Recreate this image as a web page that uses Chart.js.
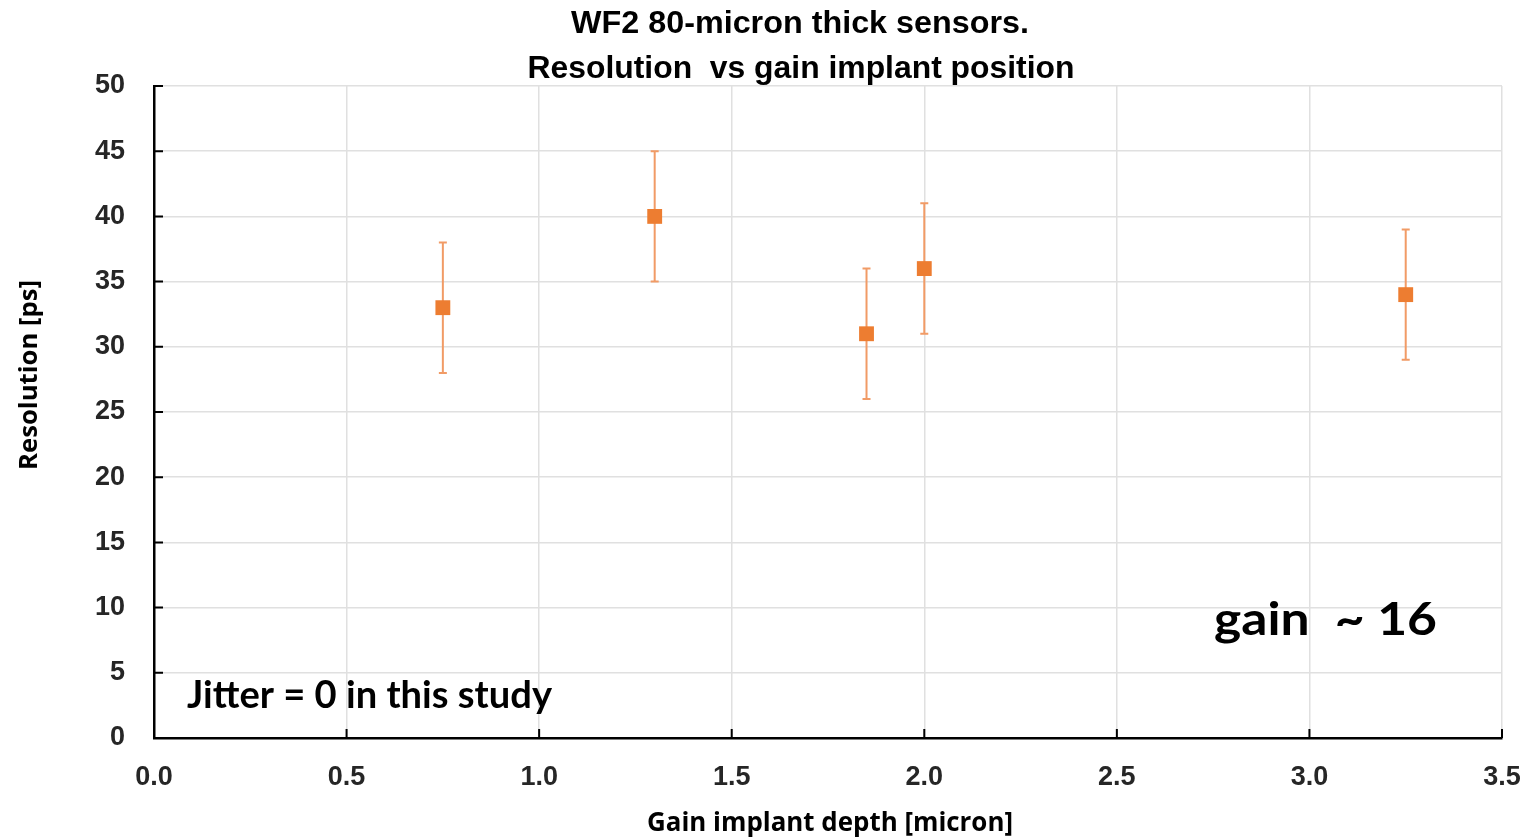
<!DOCTYPE html>
<html><head><meta charset="utf-8">
<script src="https://cdn.jsdelivr.net/npm/chart.js@4.4.1/dist/chart.umd.min.js"></script>
<style>html,body{margin:0;padding:0;background:#fff;overflow:hidden}#wrap{width:1527px;height:839px}</style>
</head><body><div id="wrap"><canvas id="c" width="1527" height="839"></canvas></div>
<script>
// ---- data ----
const depths = [0.75, 1.3, 1.85, 2.0, 3.25];
const resolutions = [33, 40, 31, 36, 34];
const errors = [5, 5, 5, 5, 5];
const xTickValues = [0, 0.5, 1.0, 1.5, 2.0, 2.5, 3.0, 3.5];
const yTickValues = [0, 5, 10, 15, 20, 25, 30, 35, 40, 45, 50];
const titleLines = ["WF2 80-micron thick sensors.", "Resolution  vs gain implant position"];
const xTitle = "Gain implant depth [micron]";
const yTitle = "Resolution [ps]";
const notes = ["Jitter = 0 in this study", "gain  ~ 16"];

const ORANGE = '#ED7D31';
const ERR = '#F19B66';

function fitText(ctx, text, cx, base, width, font, rot) {
  ctx.save();
  ctx.font = font;
  const w = ctx.measureText(text).width;
  ctx.translate(cx, base);
  if (rot) ctx.rotate(rot);
  ctx.scale(width / w, 1);
  ctx.textAlign = 'center';
  ctx.textBaseline = 'alphabetic';
  ctx.fillStyle = '#000';
  ctx.fillText(text, 0, 0);
  ctx.restore();
}

const errorBars = {
  id: 'errorBars',
  beforeDatasetsDraw(chart) {
    const ctx = chart.ctx, xs = chart.scales.x, ys = chart.scales.y;
    ctx.save();
    ctx.strokeStyle = ERR;
    ctx.lineWidth = 2;
    depths.forEach((d, i) => {
      const x = xs.getPixelForValue(d);
      const yt = ys.getPixelForValue(resolutions[i] + errors[i]);
      const yb = ys.getPixelForValue(resolutions[i] - errors[i]);
      ctx.beginPath();
      ctx.moveTo(x, yt); ctx.lineTo(x, yb);
      ctx.moveTo(x - 4, yt); ctx.lineTo(x + 4, yt);
      ctx.moveTo(x - 4, yb); ctx.lineTo(x + 4, yb);
      ctx.stroke();
    });
    ctx.restore();
  }
};

const decor = {
  id: 'decor',
  afterDraw(chart) {
    const ctx = chart.ctx, xs = chart.scales.x, ys = chart.scales.y;
    const a = chart.chartArea;
    ctx.save();
    ctx.strokeStyle = '#000';
    ctx.lineWidth = 2;
    ctx.beginPath();
    yTickValues.forEach(v => { const y = ys.getPixelForValue(v); ctx.moveTo(a.left, y); ctx.lineTo(a.left + 9, y); });
    xTickValues.forEach(v => { const x = xs.getPixelForValue(v); ctx.moveTo(x, a.bottom); ctx.lineTo(x, a.bottom - 9); });
    ctx.stroke();
    ctx.restore();
    const tf = 'bold 32px "Liberation Sans Narrow", "Liberation Sans", sans-serif';
    fitText(ctx, titleLines[0], 800, 33, 458, tf);
    fitText(ctx, titleLines[1], 801, 78, 547, tf);
    fitText(ctx, xTitle, 830, 831, 366, 'bold 27px "Open Sans", sans-serif');
    fitText(ctx, yTitle, 37, 375, 190, 'bold 25px "Open Sans", sans-serif', -Math.PI / 2);
    fitText(ctx, notes[0], 369.5, 708, 365, 'bold 38px Lato, "DejaVu Sans", sans-serif');
    fitText(ctx, notes[1], 1325.5, 635, 223, 'bold 46px Lato, "DejaVu Sans", sans-serif');
  }
};

new Chart(document.getElementById('c'), {
  type: 'scatter',
  data: {
    datasets: [{
      data: depths.map((d, i) => ({ x: d, y: resolutions[i] })),
      backgroundColor: ORANGE,
      borderColor: ORANGE,
      pointStyle: 'rect',
      pointRadius: 10.5,
      pointHoverRadius: 10.5,
      borderWidth: 0
    }]
  },
  options: {
    responsive: false,
    animation: false,
    events: [],
    layout: { padding: { top: 86, right: 25, bottom: 0, left: 0 } },
    plugins: { legend: { display: false }, title: { display: false }, tooltip: { enabled: false } },
    scales: {
      x: {
        type: 'linear', min: 0, max: 3.5,
        afterFit(s) { s.height = 101; s.paddingLeft = 0; s.paddingRight = 0; },
        afterBuildTicks(s) { s.ticks = xTickValues.map(v => ({ value: v })); },
        grid: { color: '#e0e0e0', lineWidth: 1.5, drawTicks: false },
        border: { display: true, color: '#000', width: 2.5 },
        ticks: { padding: 23, color: '#262626', font: { family: '"Liberation Sans", Arial, sans-serif', weight: 'bold', size: 27 },
                 callback: v => Number(v).toFixed(1), maxRotation: 0 }
      },
      y: {
        type: 'linear', min: 0, max: 50,
        afterFit(s) { s.width = 154; s.paddingTop = 0; s.paddingBottom = 0; },
        afterBuildTicks(s) { s.ticks = yTickValues.map(v => ({ value: v })); },
        grid: { color: '#e0e0e0', lineWidth: 1.5, drawTicks: false },
        border: { display: true, color: '#000', width: 2.5 },
        ticks: { padding: 29, color: '#262626', font: { family: '"Liberation Sans", Arial, sans-serif', weight: 'bold', size: 27 } }
      }
    }
  },
  plugins: [errorBars, decor]
});
</script></body></html>
